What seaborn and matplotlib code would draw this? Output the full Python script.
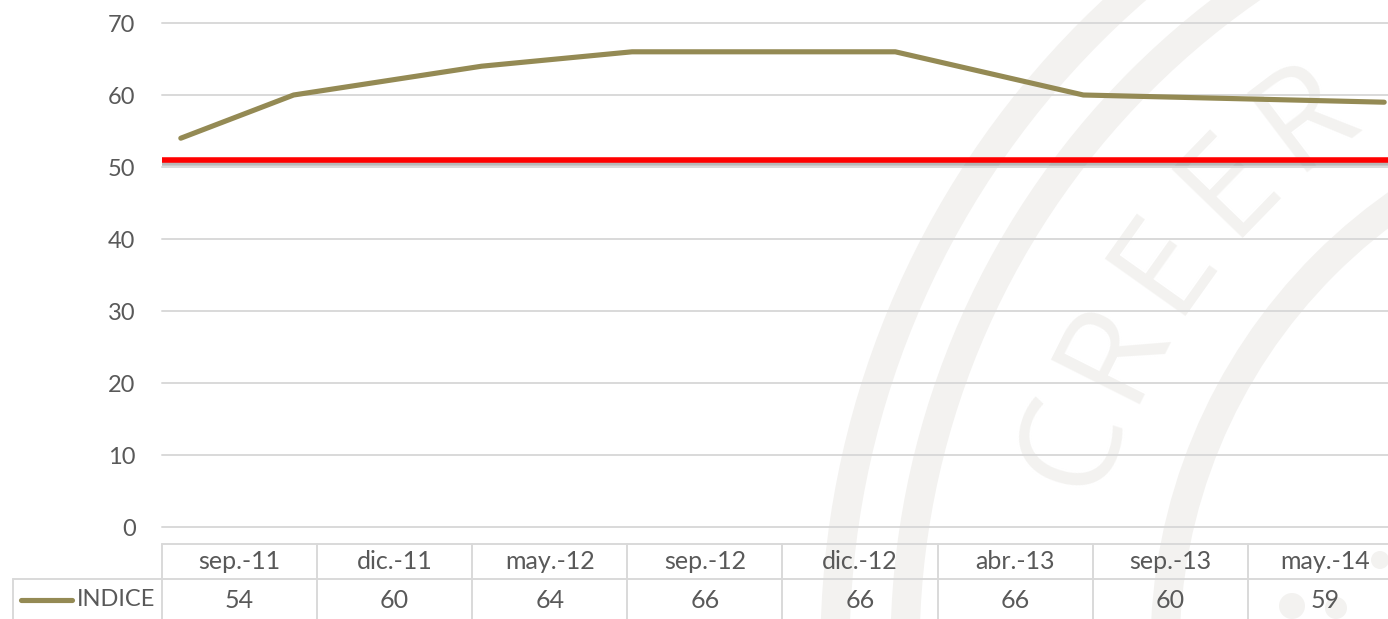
import numpy as np
import pandas as pd
import seaborn as sns
import matplotlib.pyplot as plt
import matplotlib.patheffects as pe
from matplotlib.patches import Circle

# data
periods = ["sep.-11", "dic.-11", "may.-12", "sep.-12", "dic.-12", "abr.-13", "sep.-13", "may.-14"]
dates = ["2011-09", "2011-12", "2012-05", "2012-09", "2012-12", "2013-04", "2013-09", "2014-05"]
indice = [54, 60, 64, 66, 66, 66, 60, 59]
umbral = 51
yticks = [0, 10, 20, 30, 40, 50, 60, 70]
serie = "INDICE"

OLIVE = "#948A54"
GRID = "#D9D9D9"
TXT = "#595959"
WM = "#F3F2F0"

sns.set_theme(style="white")
plt.rcParams["font.family"] = ["Lato", "DejaVu Sans"]

d = pd.to_datetime(dates)
df = pd.DataFrame({
    "mes": (d.year - d[0].year) * 12 + d.month - d[0].month,
    "valor": indice,
})

fig = plt.figure(figsize=(13.88, 6.19), dpi=100)

# background layer in pixel coords: watermark + data table
bg = fig.add_axes([0, 0, 1, 1])
bg.set_xlim(0, 1388)
bg.set_ylim(619, 0)
bg.axis("off")

cx, cy = 1710, 650
for r in (875, 805, 545):
    bg.add_patch(Circle((cx, cy), r, fill=False, lw=21, ec=WM))
for x, y, r in [(1292, 606, 13), (1336, 608, 11), (1380, 560, 9)]:
    bg.add_patch(Circle((x, y), r, color=WM, lw=0))
# curved "CREER" letters (screen angle, y up)
for i, ch in enumerate("CREER"):
    phi = np.deg2rad(162 - 8.7 * i)
    x = cx + 668 * np.cos(phi)
    y = cy - 668 * np.sin(phi)
    bg.text(x, y, ch, fontsize=100, color=WM, fontweight="normal",
            family=["Open Sans", "DejaVu Sans"],
            rotation=np.rad2deg(phi) - 90, rotation_mode="anchor",
            ha="center", va="center")

# main chart
ax = fig.add_axes([162 / 1388, 92 / 619, 1241 / 1388, 504 / 619])
ax.patch.set_alpha(0)
sns.lineplot(data=df, x="mes", y="valor", ax=ax, color=OLIVE, lw=3.7,
             solid_capstyle="round", solid_joinstyle="round", zorder=3)
ax.axhline(umbral, color="#FF0000", lw=4, zorder=4,
           path_effects=[pe.SimpleLineShadow(offset=(0, -2.5), shadow_color="#7F7F7F", alpha=0.55),
                         pe.Normal()])
ax.set_xlim(-0.5, df["mes"].max() + 0.5)
ax.set_ylim(0, 70)
ax.set_yticks(yticks)
ax.set_xticks([])
ax.set_xlabel("")
ax.set_ylabel("")
ax.yaxis.grid(True, color=GRID, lw=1.4)
for gl in ax.get_ygridlines():
    gl.set_clip_on(False)
ax.set_axisbelow(True)
for s in ax.spines.values():
    s.set_visible(False)
ax.tick_params(axis="y", length=0, pad=19, labelsize=17, labelcolor=TXT)

# data table under the plot
x0, w = 162, 1241 / len(periods)
top, mid, bot = 544, 579, 660
bg.plot([x0, x0 + w * len(periods)], [top, top], color=GRID, lw=1.4)
bg.plot([13, x0 + w * len(periods)], [mid, mid], color=GRID, lw=1.4)
bg.plot([13, 13], [mid, bot], color=GRID, lw=1.4)
for i in range(len(periods) + 1):
    bg.plot([x0 + i * w] * 2, [top, bot], color=GRID, lw=1.4)
for i, (p, v) in enumerate(zip(periods, indice)):
    xc = x0 + (i + 0.5) * w
    bg.text(xc, (top + mid) / 2, p, ha="center", va="center", fontsize=18, color=TXT)
    bg.text(xc, 600, str(v), ha="center", va="center", fontsize=18, color=TXT)
bg.plot([21, 72], [600, 600], color=OLIVE, lw=3.7, solid_capstyle="round")
bg.text(77, 600, serie, ha="left", va="center", fontsize=17, color=TXT)

fig.savefig("out.png", dpi=100)
